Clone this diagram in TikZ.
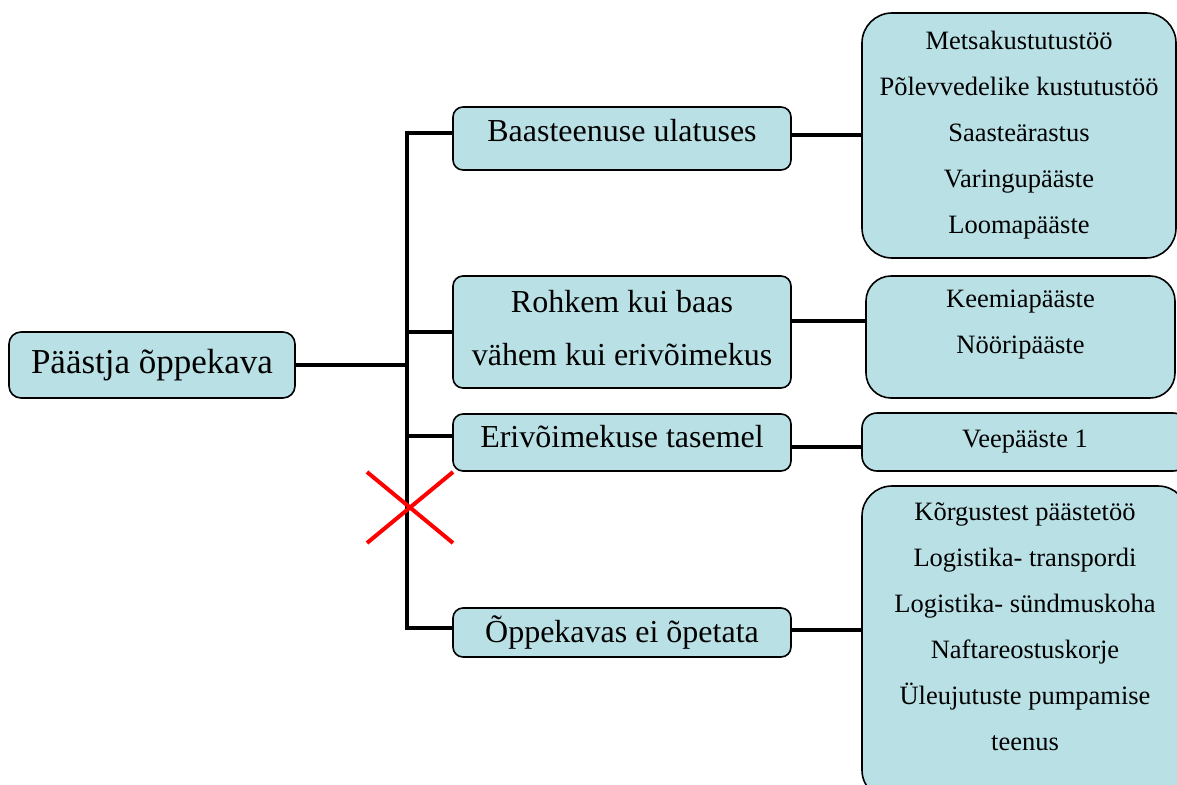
\documentclass[tikz,border=0pt]{standalone}
\usepackage{fontspec}
\setmainfont{Liberation Serif}
\definecolor{boxblue}{RGB}{185,224,228}

\begin{document}
\begin{tikzpicture}[x=1pt,y=-1pt,
   box/.style={draw,line width=1.6pt,fill=boxblue,rounded corners=#1,align=center,inner sep=0pt},
   box/.default=10pt,
   rootbox/.style={box=12pt,font=\fontsize{35}{40}\selectfont},
   midbox/.style={box=10pt,minimum width=338pt,font=\fontsize{32}{53}\selectfont},
   leafbox/.style={box=#1,font=\fontsize{26.5}{46}\selectfont},
   leafbox/.default=30pt,
   conn/.style={line width=4.5pt},
   cross/.style={red,line width=4pt}]
   \useasboundingbox (0,0) rectangle (1177,784);
   \clip (0,0) rectangle (1177,784);
   % root and the four levels
   \node[rootbox,minimum width=286pt,minimum height=66pt] (root) at (152,365) {Päästja õppekava};
   \node[midbox,minimum height=63pt,text depth=16pt] (b1) at (622,138.5) {Baasteenuse ulatuses};
   \node[midbox,minimum height=112pt,text depth=9pt] (b2) at (622,332) {Rohkem kui baas\\vähem kui erivõimekus};
   \node[midbox,minimum height=57pt,text depth=13pt] (b3) at (622,442.5) {Erivõimekuse tasemel};
   \node[midbox,minimum height=49pt] (b4) at (622,632.5) {Õppekavas ei õpetata};
   % what each level holds
   \node[leafbox,minimum width=314pt,minimum height=245pt] (r1) at (1019,135.5)
      {Metsakustutustöö\\Põlevvedelike kustutustöö\\Saasteärastus\\Varingupääste\\Loomapääste};
   \node[leafbox=25pt,minimum width=309pt,minimum height=122pt,text depth=31.5pt] (r2) at (1020.5,337)
      {Keemiapääste\\Nööripääste};
   \node[leafbox=15pt,minimum width=326pt,minimum height=58pt] (r3) at (1025,442) {Veepääste 1};
   \node[leafbox,minimum width=326pt,minimum height=314pt,text depth=33pt] (r4) at (1025,643)
      {Kõrgustest päästetöö\\Logistika- transpordi\\Logistika- sündmuskoha\\Naftareostuskorje\\Üleujutuste pumpamise\\teenus};
   % trunk
   \coordinate (trunk) at (407,0);
   \draw[conn] (root.east) -- (root.east -| trunk);
   \draw[conn] ([yshift=5.5pt]b1.west) -- ([yshift=5.5pt]b1.west -| trunk)
      -- ([yshift=4.5pt]b4.west -| trunk) -- ([yshift=4.5pt]b4.west);
   \draw[conn] (b2.west) -- (b2.west -| trunk);
   \draw[conn] ([yshift=6.5pt]b3.west) -- ([yshift=6.5pt]b3.west -| trunk);
   \foreach \i/\s in {1/3.5,2/11,3/-4.5,4/2.5}
      \draw[conn] ([yshift=\s pt]b\i.east) -- ([yshift=\s pt]b\i.east -| r\i.west);
   % crossed out
   \draw[cross] (367,472) -- (453,543) (367,543) -- (453,472);
\end{tikzpicture}
\end{document}
